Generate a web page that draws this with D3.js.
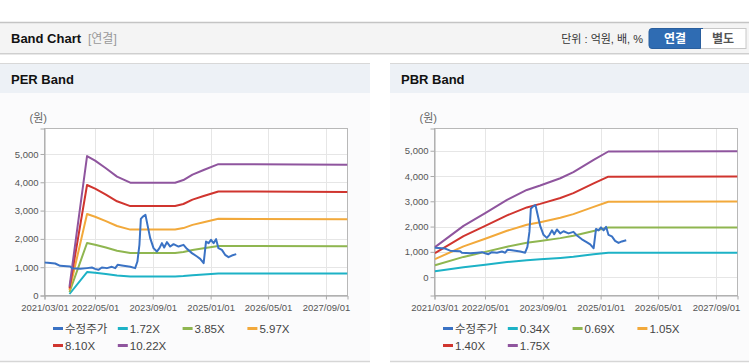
<!DOCTYPE html>
<html><head><meta charset="utf-8">
<script src="https://cdn.jsdelivr.net/npm/d3@7"></script>
<style>
html,body{margin:0;padding:0;background:#fff;}
svg{display:block;font-family:"Liberation Sans",Arial,"Noto Sans CJK KR",sans-serif;}
</style></head>
<body><svg id="c" width="749" height="364"></svg>
<script>
// ---------- data ----------
const xTickLabels = ["2021/03/01","2022/05/01","2023/09/01","2025/01/01","2026/05/01","2027/09/01"];
const yTickValues = [0,1000,2000,3000,4000,5000];

const priceDates = ["2021-03-01","2021-03-07","2021-05-30","2021-07-11","2021-10-04","2021-10-18","2021-12-28","2022-02-23","2022-04-05","2022-05-02","2022-05-30","2022-06-28","2022-08-10","2022-09-21","2022-10-19","2022-11-08","2022-12-14","2023-02-23","2023-04-05","2023-04-24","2023-05-11","2023-05-23","2023-06-09","2023-07-01","2023-07-18","2023-08-10","2023-09-07","2023-10-05","2023-10-27","2023-11-17","2023-12-06","2023-12-29","2024-01-26","2024-02-23","2024-04-05","2024-05-17","2024-06-15","2024-07-27","2024-09-08","2024-10-05","2024-11-03","2024-11-23","2024-12-15","2025-01-04","2025-01-26","2025-02-16","2025-03-08","2025-04-06","2025-05-03","2025-06-01","2025-06-29","2025-08-05"];
const priceValues = [1170,1165,1130,1048,1024,967,942,967,988,942,907,988,967,1013,967,1084,1059,1013,967,1200,1790,2707,2788,2848,2495,2026,1673,1553,1673,1850,1694,1885,1730,1814,1730,1790,1648,1497,1377,1295,1144,1906,1850,1966,1850,1990,1673,1613,1437,1355,1412,1461];

// PER band
const perLabels = ["수정주가","1.72X","3.85X","5.97X","8.10X","10.22X"];
const perBandDates = ["2021-09-28","2022-02-23","2022-05-02","2022-08-01","2022-11-03","2023-02-23","2024-03-07","2024-05-16","2024-08-01","2024-11-03","2025-03-07","2028-03-01"];
const per172  = [53, 829, 802, 757, 707, 671, 671, 686, 719, 746, 781, 777];
const per385  = [119, 1856, 1794, 1694, 1582, 1502, 1502, 1536, 1609, 1671, 1748, 1740];
const per597  = [185, 2878, 2782, 2627, 2454, 2328, 2328, 2382, 2495, 2591, 2710, 2698];
const per810  = [251, 3904, 3775, 3564, 3329, 3159, 3159, 3232, 3386, 3515, 3677, 3661];
const per1022 = [317, 4926, 4763, 4497, 4200, 3986, 3986, 4078, 4272, 4435, 4640, 4619];

// PBR band
const pbrLabels = ["수정주가","0.34X","0.69X","1.05X","1.40X","1.75X"];
const pbrBandDates = ["2021-03-05","2021-11-01","2022-05-03","2022-11-03","2023-04-19","2023-08-10","2024-01-27","2024-05-16","2024-11-03","2025-03-07","2028-03-01"];
const pbr034 = [231, 394, 492, 594, 670, 704, 760, 806, 901, 966, 967];
const pbr069 = [468, 800, 998, 1205, 1359, 1428, 1543, 1637, 1828, 1960, 1963];
const pbr105 = [712, 1217, 1518, 1833, 2069, 2174, 2348, 2491, 2781, 2982, 2987];
const pbr140 = [949, 1623, 2024, 2444, 2758, 2898, 3130, 3321, 3709, 3976, 3983];
const pbr175 = [1187, 2028, 2531, 3056, 3448, 3623, 3913, 4151, 4636, 4970, 4979];

const colors = ["#3a72c4","#1db2c6","#8fb650","#f2a93b","#d0352f","#8f559e"];

// ---------- drawing ----------
const svg = d3.select("#c");
const parse = d3.timeParse("%Y-%m-%d");
const parseTick = d3.timeParse("%Y/%m/%d");

// header
svg.append("rect").attr("x",0).attr("y",22).attr("width",749).attr("height",32).attr("fill","#f4f4f4");
svg.append("line").attr("x1",0).attr("x2",749).attr("y1",22.5).attr("y2",22.5).attr("stroke","#c4c4c4").attr("stroke-width",1.5);
svg.append("line").attr("x1",0).attr("x2",749).attr("y1",53.5).attr("y2",53.5).attr("stroke","#cfcfcf");
svg.append("line").attr("x1",0).attr("x2",749).attr("y1",54.5).attr("y2",54.5).attr("stroke","#e8e8e8");
svg.append("text").attr("x",11).attr("y",43).attr("font-size",13).attr("font-weight","bold").attr("fill","#111").text("Band Chart");
svg.append("text").attr("x",88).attr("y",43).attr("font-size",12).attr("fill","#999").text("[연결]");
svg.append("text").attr("x",643).attr("y",43).attr("text-anchor","end").attr("font-size",11).attr("fill","#333").text("단위 : 억원, 배, %");
svg.append("rect").attr("x",700).attr("y",28.5).attr("width",46).attr("height",20).attr("fill","#fff").attr("stroke","#c8c8c8");
svg.append("path").attr("d","M703,28.5 H700.5 V48.5 H652 a3,3 0 0 1 -3,-3 V31.5 a3,3 0 0 1 3,-3 Z").attr("fill","#2f6cb3").attr("stroke","#2a5f9e");
svg.append("text").attr("x",675).attr("y",42.5).attr("text-anchor","middle").attr("font-size",12).attr("font-weight","bold").attr("fill","#fff").text("연결");
svg.append("text").attr("x",723).attr("y",42.5).attr("text-anchor","middle").attr("font-size",12).attr("font-weight","bold").attr("fill","#555").text("별도");

function panel(px, pw, title, x0, x1, yDomain, bandDates, bands, labels) {
  const g = svg.append("g");
  g.append("rect").attr("x",px).attr("y",63).attr("width",pw).attr("height",299).attr("fill","#fbfbfc");
  g.append("rect").attr("x",px).attr("y",63).attr("width",pw).attr("height",30).attr("fill","#edf1f6");
  g.append("line").attr("x1",px).attr("x2",px+pw).attr("y1",63.5).attr("y2",63.5).attr("stroke","#d8d8d8");
  g.append("line").attr("x1",px).attr("x2",px+pw).attr("y1",361.5).attr("y2",361.5).attr("stroke","#d6d6d6").attr("stroke-width",1.5);
  g.append("text").attr("x",px+11).attr("y",84).attr("font-size",13).attr("font-weight","bold").attr("fill","#111").text(title);

  const x = d3.scaleTime().domain([parse("2021-03-01"), parse("2028-03-01")]).range([x0, x1]);
  const y = d3.scaleLinear().domain(yDomain).range([295.5, 128.5]);
  const top = 128.5, bottom = 295.5;

  g.append("text").attr("x",x0-15).attr("y",122).attr("font-size",11).attr("fill","#666").text("(원)");
  g.append("rect").attr("x",x0).attr("y",top).attr("width",x1-x0).attr("height",bottom-top).attr("fill","#fff");

  const tickDates = xTickLabels.map(parseTick);
  // grid
  g.append("g").selectAll("line").data(tickDates.slice(1)).join("line")
    .attr("x1",d=>Math.round(x(d))+0.5).attr("x2",d=>Math.round(x(d))+0.5).attr("y1",top).attr("y2",bottom)
    .attr("stroke","#e6e6e6");
  g.append("g").selectAll("line").data(yTickValues).join("line")
    .attr("x1",x0).attr("x2",x1).attr("y1",d=>Math.round(y(d))+0.5).attr("y2",d=>Math.round(y(d))+0.5)
    .attr("stroke","#e6e6e6");
  // frame
  g.append("rect").attr("x",x0).attr("y",top).attr("width",x1-x0).attr("height",bottom-top).attr("fill","none").attr("stroke","#b8b8b8");

  // axes
  const xAxis = d3.axisBottom(x).tickValues(tickDates).tickFormat((d,i)=>xTickLabels[i]).tickSizeOuter(0).tickSize(4);
  const ax = g.append("g").attr("transform",`translate(0,${bottom})`).call(xAxis);
  ax.select(".domain").attr("stroke","#aaa");
  ax.selectAll(".tick line").attr("stroke","#aaa");
  ax.selectAll("text").attr("font-size",9.5).attr("fill","#555").attr("font-family","'Liberation Sans',Arial,sans-serif").attr("dy","0.9em");
  const yAxis = d3.axisLeft(y).tickValues(yTickValues).tickFormat(d3.format(",")).tickSizeOuter(0).tickSize(4);
  const ay = g.append("g").attr("transform",`translate(${x0},0)`).call(yAxis);
  ay.select(".domain").attr("stroke","#aaa");
  ay.selectAll(".tick line").attr("stroke","#aaa");
  ay.selectAll("text").attr("font-size",9.5).attr("fill","#555").attr("font-family","'Liberation Sans',Arial,sans-serif").attr("x",-6);

  const line = d3.line().x(d=>x(d[0])).y(d=>y(d[1]));
  const bd = bandDates.map(parse);
  const clip = "clip"+px;
  svg.append("clipPath").attr("id",clip).append("rect").attr("x",x0).attr("y",top-2).attr("width",x1-x0).attr("height",bottom-top+2);
  const lg = g.append("g").attr("clip-path",`url(#${clip})`);
  bands.forEach((vals,i)=>{
    lg.append("path").datum(bd.map((d,j)=>[d,vals[j]])).attr("d",line)
      .attr("fill","none").attr("stroke",colors[i+1]).attr("stroke-width",2).attr("stroke-linejoin","round");
  });
  lg.append("path").datum(priceDates.map((d,j)=>[parse(d),priceValues[j]])).attr("d",line)
    .attr("fill","none").attr("stroke",colors[0]).attr("stroke-width",2).attr("stroke-linejoin","round");

  // legend
  const leg = g.append("g");
  labels.forEach((lab,i)=>{
    const col = i%4, row = Math.floor(i/4);
    const lx = x0 + 8.5 + col*64.8, ly = 328.5 + row*17;
    leg.append("line").attr("x1",lx).attr("x2",lx+10).attr("y1",ly).attr("y2",ly).attr("stroke",colors[i]).attr("stroke-width",3);
    leg.append("text").attr("x",lx+12).attr("y",ly+4).attr("font-size",11.5).attr("fill","#444").text(lab);
  });
}

panel(0, 370, "PER Band", 44.5, 347.5, [0, 5900], perBandDates, [per172,per385,per597,per810,per1022], perLabels);
panel(390, 359, "PBR Band", 434.5, 737.5, [-727, 5880], pbrBandDates, [pbr034,pbr069,pbr105,pbr140,pbr175], pbrLabels);
</script>
</body></html>
